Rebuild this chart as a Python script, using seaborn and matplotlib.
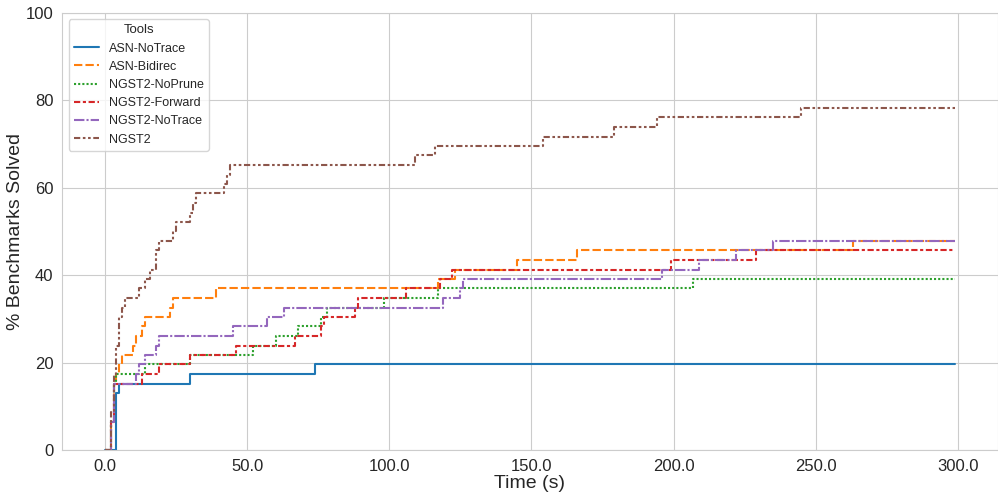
import pandas as pd
import matplotlib
matplotlib.use("Agg")
import matplotlib.pyplot as plt
import matplotlib.ticker as mticker
import seaborn as sns

# step events: (time in s, % of benchmarks solved)
tools = ["ASN-NoTrace", "ASN-Bidirec", "NGST2-NoPrune", "NGST2-Forward", "NGST2-NoTrace", "NGST2"]

asn_notrace_t = [0, 4, 5, 30, 74, 299]
asn_notrace_y = [0, 13.0, 15.2, 17.4, 19.6, 19.6]

asn_bidirec_t = [0, 2, 3, 4, 5, 6, 10, 11, 13, 14, 23, 24, 39, 117, 123, 145, 166, 263, 299]
asn_bidirec_y = [0, 6.5, 15.2, 17.4, 19.6, 21.7, 23.9, 26.1, 28.3, 30.4, 32.6, 34.8, 37.0,
                 39.1, 41.3, 43.5, 45.7, 47.8, 47.8]

ngst2_noprune_t = [0, 2, 3, 4, 14, 30, 52, 60, 68, 76, 78, 98, 117, 207, 299]
ngst2_noprune_y = [0, 6.5, 15.2, 17.4, 19.6, 21.7, 23.9, 26.1, 28.3, 30.4, 32.6, 34.8, 37.0,
                   39.1, 39.1]

ngst2_forward_t = [0, 2, 3, 13, 19, 30, 46, 67, 76, 77, 88, 89, 106, 118, 122, 199, 229, 299]
ngst2_forward_y = [0, 6.5, 15.2, 17.4, 19.6, 21.7, 23.9, 26.1, 28.3, 30.4, 32.6, 34.8, 37.0,
                   39.1, 41.3, 43.5, 45.7, 45.7]

ngst2_notrace_t = [0, 2, 3, 11, 12, 14, 18, 19, 45, 57, 63, 119, 125, 126, 196, 209, 222, 235, 299]
ngst2_notrace_y = [0, 6.5, 15.2, 17.4, 19.6, 21.7, 23.9, 26.1, 28.3, 30.4, 32.6, 34.8, 37.0,
                   39.1, 41.3, 43.5, 45.7, 47.8, 47.8]

ngst2_t = [0, 2, 3, 4, 5, 6, 7, 12, 14, 16, 18, 19, 24, 25, 30, 31, 32, 42, 43, 44,
           109, 116, 154, 179, 194, 245, 299]
ngst2_y = [0, 8.7, 17.4, 23.9, 30.4, 32.6, 34.8, 37.0, 39.1, 41.3, 45.7, 47.8, 50.0, 52.2,
           54.3, 56.5, 58.7, 60.9, 63.0, 65.2, 67.4, 69.6, 71.7, 73.9, 76.1, 78.3, 78.3]

series = [
    (asn_notrace_t, asn_notrace_y),
    (asn_bidirec_t, asn_bidirec_y),
    (ngst2_noprune_t, ngst2_noprune_y),
    (ngst2_forward_t, ngst2_forward_y),
    (ngst2_notrace_t, ngst2_notrace_y),
    (ngst2_t, ngst2_y),
]

frames = []
for name, (t, y) in zip(tools, series):
    frames.append(pd.DataFrame({"Time": t, "Solved": y, "Tools": name}))
df = pd.concat(frames, ignore_index=True)

sns.set_style("whitegrid")
plt.rcParams["font.family"] = ["Liberation Sans", "DejaVu Sans"]

fig = plt.figure(figsize=(9.98, 4.98), dpi=100)
ax = fig.add_axes([62.5 / 998, 48 / 498, 935 / 998, 437 / 498])

sns.lineplot(data=df, x="Time", y="Solved", hue="Tools", style="Tools",
             hue_order=tools, style_order=tools, errorbar=None,
             drawstyle="steps-post", ax=ax)

ax.set_ylim(0, 100)
ax.set_xticks([0, 50, 100, 150, 200, 250, 300])
ax.xaxis.set_major_formatter(mticker.FormatStrFormatter("%.1f"))
ax.set_yticks([0, 20, 40, 60, 80, 100])
ax.tick_params(labelsize=12, pad=3)
ax.set_xlabel("Time (s)", fontsize=14, labelpad=1)
ax.set_ylabel("% Benchmarks Solved", fontsize=14, labelpad=1)

leg = ax.legend(title="Tools", loc="upper left", fontsize=9, title_fontsize=9.5)

fig.savefig("out.png", dpi=100)
